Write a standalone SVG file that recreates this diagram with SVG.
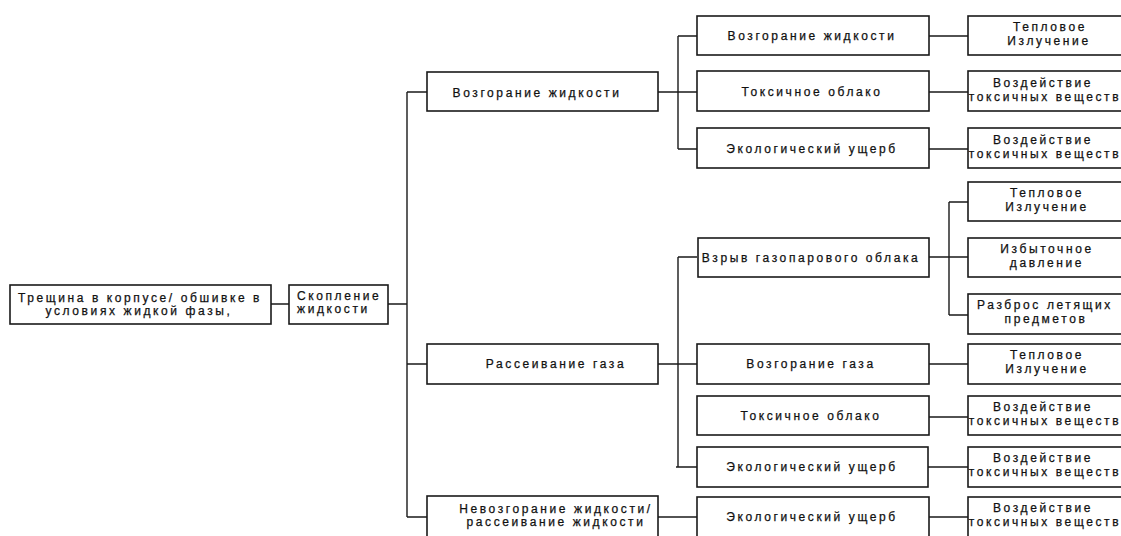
<svg xmlns="http://www.w3.org/2000/svg" width="1121" height="536" viewBox="0 0 1121 536">
<style>
.b{fill:#fff;stroke:#1a1a1a;stroke-width:1.6}
.c{fill:none;stroke:#1a1a1a;stroke-width:1.4}
text{font-family:"Liberation Sans",Arial,sans-serif;font-size:12px;letter-spacing:2.6px;fill:#111;stroke:#111;stroke-width:0.25;text-anchor:middle}
.l{text-anchor:start}
</style>
<rect width="1121" height="536" fill="#fff"/>
<g id="connectors">
<path class="c" d="M271 304H289M388 304H407M407 92V517M407 92H427M407 364H427M407 517H427"/>
<path class="c" d="M658 92H697M678 36V149M678 36H697M678 149H697"/>
<path class="c" d="M658 364H697M678 257V467M678 257H697M676 467H697"/>
<path class="c" d="M658 517H697"/>
<path class="c" d="M929 36H968M929 92H968M929 149H968"/>
<path class="c" d="M929 257H968M949 202V315M949 202H968M949 315H968"/>
<path class="c" d="M929 364H968M929 417H968M928 467H968M929 517H968"/>
</g>
<g id="n1"><rect class="b" x="10" y="285" width="261" height="39"/><text x="140" y="302">Трещина в корпусе/ обшивке в</text><text x="139" y="315">условиях жидкой фазы,</text></g>
<g id="n2"><rect class="b" x="289" y="285" width="99" height="39"/><text class="l" x="297" y="300">Скопление</text><text class="l" x="297" y="313">жидкости</text></g>
<g id="n3"><rect class="b" x="427" y="72" width="231" height="39"/><text x="537" y="97">Возгорание жидкости</text></g>
<g id="n4"><rect class="b" x="427" y="344" width="231" height="40"/><text x="556" y="368">Рассеивание газа</text></g>
<g id="n5"><rect class="b" x="427" y="496" width="231" height="50"/><text x="556" y="513">Невозгорание жидкости/</text><text x="556" y="526">рассеивание жидкости</text></g>
<g id="n6"><rect class="b" x="697" y="16" width="232" height="39"/><text x="812" y="40">Возгорание жидкости</text></g>
<g id="n7"><rect class="b" x="697" y="71" width="232" height="40"/><text x="812" y="96">Токсичное облако</text></g>
<g id="n8"><rect class="b" x="697" y="128" width="232" height="40"/><text x="812" y="153">Экологический ущерб</text></g>
<g id="n9"><rect class="b" x="698" y="238" width="231" height="39"/><text x="811" y="262">Взрыв газопарового облака</text></g>
<g id="n10"><rect class="b" x="697" y="344" width="232" height="40"/><text x="811" y="368">Возгорание газа</text></g>
<g id="n11"><rect class="b" x="697" y="396" width="232" height="39"/><text x="811" y="420">Токсичное облако</text></g>
<g id="n12"><rect class="b" x="697" y="447" width="231" height="40"/><text x="812" y="471">Экологический ущерб</text></g>
<g id="n13"><rect class="b" x="697" y="497" width="232" height="50"/><text x="812" y="521">Экологический ущерб</text></g>
<g id="n14"><rect class="b" x="968" y="16" width="160" height="39"/><text x="1050" y="31">Тепловое</text><text x="1049" y="45">Излучение</text></g>
<g id="n15"><rect class="b" x="968" y="71" width="160" height="40"/><text x="1043" y="87">Воздействие</text><text x="1045" y="101">токсичных веществ</text></g>
<g id="n16"><rect class="b" x="968" y="128" width="160" height="40"/><text x="1043" y="144">Воздействие</text><text x="1045" y="158">токсичных веществ</text></g>
<g id="n17"><rect class="b" x="968" y="182" width="160" height="39"/><text x="1047" y="197">Тепловое</text><text x="1047" y="211">Излучение</text></g>
<g id="n18"><rect class="b" x="968" y="238" width="160" height="39"/><text x="1047" y="253">Избыточное</text><text x="1047" y="267">давление</text></g>
<g id="n19"><rect class="b" x="968" y="294" width="160" height="40"/><text x="1045" y="309">Разброс летящих</text><text x="1046" y="323">предметов</text></g>
<g id="n20"><rect class="b" x="968" y="344" width="160" height="40"/><text x="1047" y="359">Тепловое</text><text x="1047" y="373">Излучение</text></g>
<g id="n21"><rect class="b" x="968" y="396" width="160" height="39"/><text x="1043" y="411">Воздействие</text><text x="1045" y="425">токсичных веществ</text></g>
<g id="n22"><rect class="b" x="968" y="447" width="160" height="40"/><text x="1043" y="462">Воздействие</text><text x="1045" y="476">токсичных веществ</text></g>
<g id="n23"><rect class="b" x="968" y="497" width="160" height="50"/><text x="1043" y="512">Воздействие</text><text x="1045" y="526">токсичных веществ</text></g>
</svg>
